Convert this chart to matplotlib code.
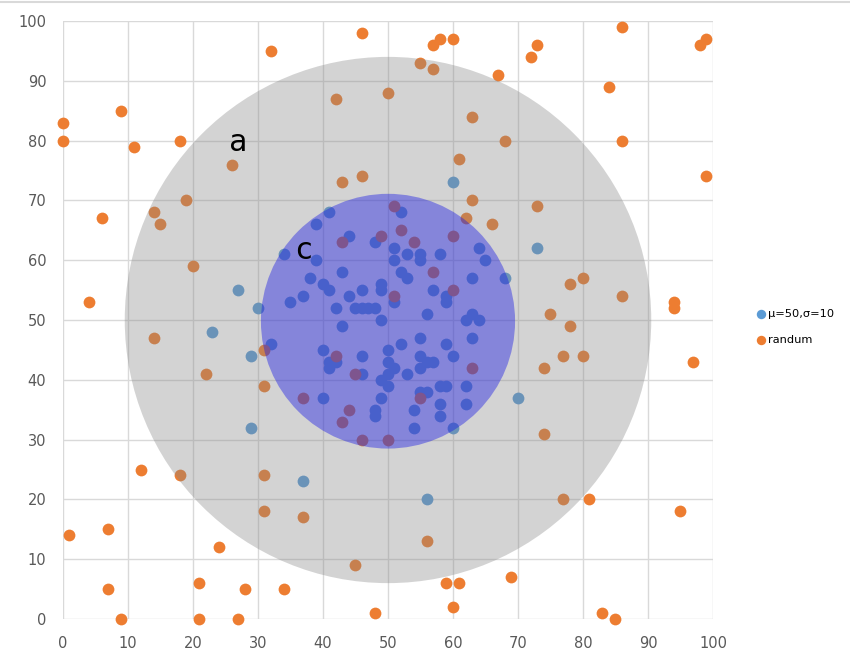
import matplotlib
matplotlib.use("Agg")
import matplotlib.pyplot as plt
from matplotlib.patches import Ellipse
from matplotlib.lines import Line2D

# series 1: normal sample (mu=50, sigma=10)
norm_x = [60, 73, 27, 30, 23, 29, 29, 37, 56, 70, 68, 65, 32, 34,
          41, 39, 44, 48, 39, 43, 38, 40, 41, 37, 35, 42, 44, 46,
          45, 46, 47, 48, 49, 49, 52, 51, 51, 53, 55, 55, 58, 64,
          52, 53, 63, 57, 59, 59, 51, 56, 62, 63, 64, 63, 55, 52,
          59, 60, 55, 56, 57, 50, 51, 53, 55, 50, 55, 56, 58, 59,
          62, 54, 58, 62, 58, 54, 60, 43, 49, 40, 41, 42, 41, 46,
          50, 46, 49, 50, 40, 49, 48, 48]
norm_y = [73, 62, 55, 52, 48, 44, 32, 23, 20, 37, 57, 60, 46, 61,
          68, 66, 64, 63, 60, 58, 57, 56, 55, 54, 53, 52, 54, 55,
          52, 52, 52, 52, 56, 55, 68, 62, 60, 61, 61, 60, 61, 62,
          58, 57, 57, 55, 54, 53, 53, 51, 50, 51, 50, 47, 47, 46,
          46, 44, 44, 43, 43, 43, 42, 41, 42, 39, 38, 38, 39, 39,
          39, 35, 36, 36, 34, 32, 32, 49, 50, 45, 43, 43, 42, 44,
          45, 41, 40, 41, 37, 37, 35, 34]

# series 2: uniform random points
rand_x = [0, 0, 9, 11, 18, 26, 32, 46, 57, 58, 55, 57, 60, 50, 42,
          67, 72, 73, 86, 98, 99, 84, 86, 68, 61, 99, 63, 43, 46,
          6, 14, 15, 19, 20, 4, 14, 22, 31, 31, 12, 18, 31, 31, 37,
          37, 1, 7, 7, 9, 24, 21, 21, 27, 28, 34, 45, 48, 56, 59,
          61, 60, 69, 77, 81, 95, 83, 85, 73, 63, 62, 66, 78, 80,
          86, 75, 94, 94, 78, 77, 80, 74, 97, 74,
          51, 43, 49, 52, 54, 60, 57, 60, 51, 42, 45, 44, 43, 46,
          50, 63, 55]
rand_y = [83, 80, 85, 79, 80, 76, 95, 98, 96, 97, 93, 92, 97, 88, 87,
          91, 94, 96, 99, 96, 97, 89, 80, 80, 77, 74, 84, 73, 74,
          67, 68, 66, 70, 59, 53, 47, 41, 45, 39, 25, 24, 24, 18, 37,
          17, 14, 15, 5, 0, 12, 6, 0, 0, 5, 5, 9, 1, 13, 6,
          6, 2, 7, 20, 20, 18, 1, 0, 69, 70, 67, 66, 56, 57,
          54, 51, 53, 52, 49, 44, 44, 42, 43, 31,
          69, 63, 64, 65, 63, 64, 58, 55, 54, 44, 41, 35, 33, 30,
          30, 42, 37]

fig = plt.figure(figsize=(8.5, 6.54), dpi=100)
ax = fig.add_axes([63 / 850, 35 / 654, 650 / 850, 598 / 654])

ax.scatter(norm_x, norm_y, s=72, color="#5b9bd5", linewidths=0,
           zorder=2, clip_on=False, label="μ=50,σ=10")
ax.scatter(rand_x, rand_y, s=72, color="#ed7d31", linewidths=0,
           zorder=2, clip_on=False, label="randum")

# translucent circles laid over the points
ax.add_patch(Ellipse((50, 50), 81, 88, facecolor="#868686", alpha=0.36,
                     edgecolor="none", zorder=3))
ax.add_patch(Ellipse((50, 49.8), 39.1, 42.6, facecolor="#1a1ae6", alpha=0.42,
                     edgecolor="none", zorder=4))

ax.text(26.9, 79.6, "a", fontsize=22, family="DejaVu Sans Mono",
        ha="center", va="center", zorder=5)
ax.text(37.0, 61.6, "c", fontsize=22, family="DejaVu Sans Mono",
        ha="center", va="center", zorder=5)

ax.set_xlim(0, 100)
ax.set_ylim(0, 100)
ax.set_xticks(range(0, 101, 10))
ax.set_yticks(range(0, 101, 10))
ax.grid(True, color="#d9d9d9", linewidth=1.0, zorder=0)
ax.set_axisbelow(True)
for side in ax.spines.values():
    side.set_visible(False)
ax.tick_params(length=0, labelsize=10.5, labelcolor="#595959")
ax.tick_params(axis="x", pad=12)
ax.tick_params(axis="y", pad=12)

ax.legend(loc="center left", bbox_to_anchor=(748 / 850, 0.5),
          bbox_transform=fig.transFigure, frameon=False, fontsize=8.2,
          handletextpad=0.05, labelspacing=1.35, markerscale=0.8,
          handlelength=1.1, borderaxespad=0.2)

fig.add_artist(Line2D([0, 1], [652 / 654, 652 / 654], color="#d9d9d9",
                      linewidth=1.5, transform=fig.transFigure))

fig.savefig("out.png", dpi=100)
